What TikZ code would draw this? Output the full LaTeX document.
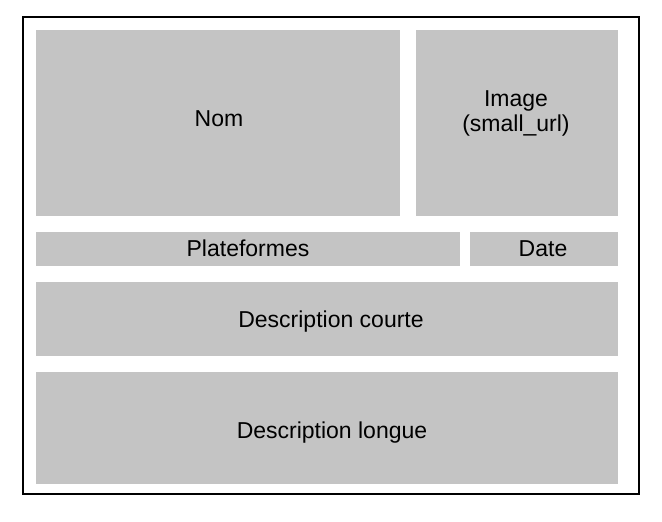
\documentclass[tikz,border=0pt]{standalone}
\usepackage{fontspec}
\setmainfont{Liberation Sans}
\definecolor{cellgray}{HTML}{C4C4C4}
\begin{document}
\begin{tikzpicture}[x=1pt,y=-1pt,
  cell/.style={fill=cellgray, draw=none},
  label/.style={anchor=base, inner sep=0pt, font=\fontsize{23}{26}\selectfont},
  frame/.style={draw=black, line width=2pt}]
\useasboundingbox (0,0) rectangle (662,522);
\draw[frame] (23,17) rectangle (639,494);
% top row
\path[cell] (36,30) rectangle (400,215.5);
\path[cell] (416,30) rectangle (618,215.5);
% second row
\path[cell] (36,232) rectangle (460,266);
\path[cell] (470,232) rectangle (618,266);
% descriptions
\path[cell] (36,282) rectangle (618,356);
\path[cell] (36,372) rectangle (618,484);
% labels, placed on their baselines
\node[label] (nom) at (219,126) {Nom};
\node[label] (image) at (516,106) {Image};
\node[label] (imageurl) at (516,131) {(small\_url)};
\node[label] (plat) at (248,256) {Plateformes};
\node[label] (date) at (543,256) {Date};
\node[label] (courte) at (331,327) {Description courte};
\node[label] (longue) at (332,438) {Description longue};
\end{tikzpicture}
\end{document}
